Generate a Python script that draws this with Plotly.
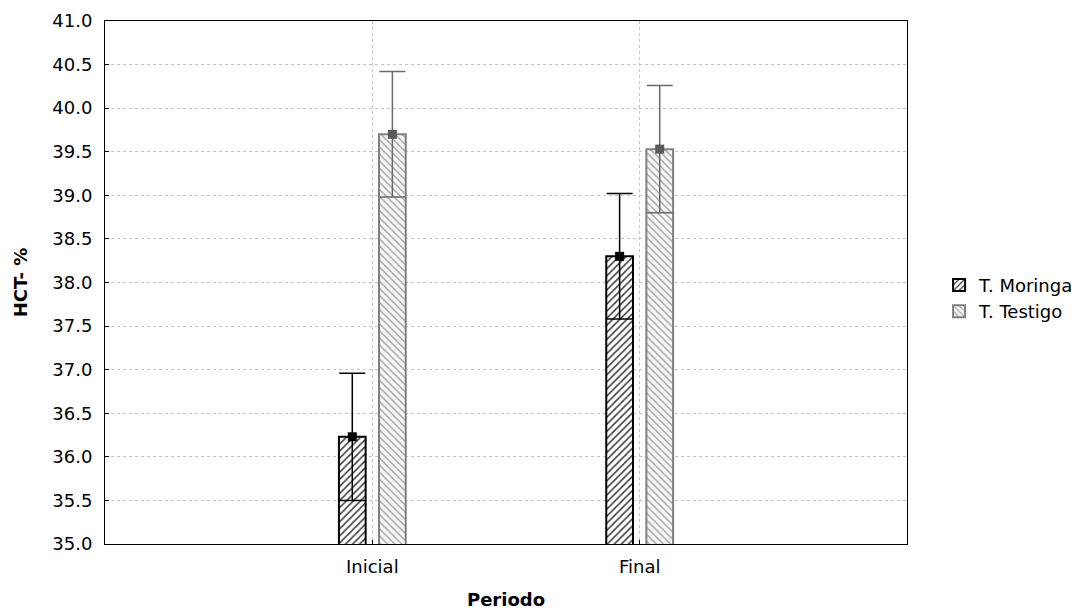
import plotly.graph_objects as go

# Hematocrit (HCT %) by period: mean and error for each treatment group
periods = ["Inicial", "Final"]
moringa_mean = [36.23, 38.30]
moringa_err = [0.73, 0.72]
testigo_mean = [39.70, 39.53]
testigo_err = [0.72, 0.73]

BAR_W = 0.1      # bar width in axis units
GAP = 0.05       # space between the two bars of a period
pos = list(range(len(periods)))

series = [
    dict(name="T. Moringa", mean=moringa_mean, err=moringa_err,
         offset=-GAP / 2 - BAR_W, edge="#000000", fg="#3a3a3a", bg="#ffffff",
         shape="/", point="#000000", bar_err="#000000"),
    dict(name="T. Testigo", mean=testigo_mean, err=testigo_err,
         offset=GAP / 2, edge="#808080", fg="#a9a9a9", bg="#f7f7f7",
         shape="\\", point="#5a5a5a", bar_err="#6a6a6a"),
]

fig = go.Figure()

for s in series:
    fig.add_trace(go.Bar(
        x=pos, y=s["mean"], width=BAR_W, offset=s["offset"], name=s["name"],
        marker=dict(
            color=s["bg"],
            line=dict(color=s["edge"], width=2),
            pattern=dict(shape=s["shape"], fgcolor=s["fg"], bgcolor=s["bg"],
                         size=5, solidity=0.3, fillmode="replace"),
        ),
        hoverinfo="skip",
    ))

for s in series:
    centers = [p + s["offset"] + BAR_W / 2 for p in pos]
    fig.add_trace(go.Scatter(
        x=centers, y=s["mean"], mode="markers", showlegend=False,
        marker=dict(symbol="square", size=9, color=s["point"]),
        error_y=dict(type="data", array=s["err"], symmetric=True,
                     color=s["bar_err"], thickness=1.5, width=13),
        hoverinfo="skip",
    ))

grid = "#c4c4c4"
fig.update_layout(
    width=1092, height=610,
    margin=dict(l=105, r=185, t=21, b=66),
    plot_bgcolor="white", paper_bgcolor="white",
    font=dict(family="DejaVu Sans", size=18, color="black"),
    barmode="overlay",
    showlegend=True,
    legend=dict(x=1.04, y=0.47, xanchor="left", yanchor="middle",
                font=dict(size=18), bgcolor="rgba(0,0,0,0)", tracegroupgap=0),
    xaxis=dict(
        range=[-1, 2], tickvals=pos, ticktext=periods,
        showgrid=True, gridcolor=grid, griddash="dot", gridwidth=1,
        ticks="inside", ticklen=4, tickcolor="black",
        showline=True, linecolor="black", linewidth=1, mirror=True,
        zeroline=False, ticklabelstandoff=6, automargin=False,
        title=dict(text="<b>Periodo</b>", font=dict(size=18), standoff=17),
    ),
    yaxis=dict(
        range=[35, 41], tick0=35, dtick=0.5, tickformat=".1f",
        showgrid=True, gridcolor=grid, griddash="dot", gridwidth=1,
        ticks="inside", ticklen=4, tickcolor="black",
        showline=True, linecolor="black", linewidth=1, mirror=True,
        zeroline=False, ticklabelstandoff=8, automargin=False,
        title=dict(text="<b>HCT- %</b>", font=dict(size=18), standoff=20),
    ),
)

fig.write_html("out.html")
